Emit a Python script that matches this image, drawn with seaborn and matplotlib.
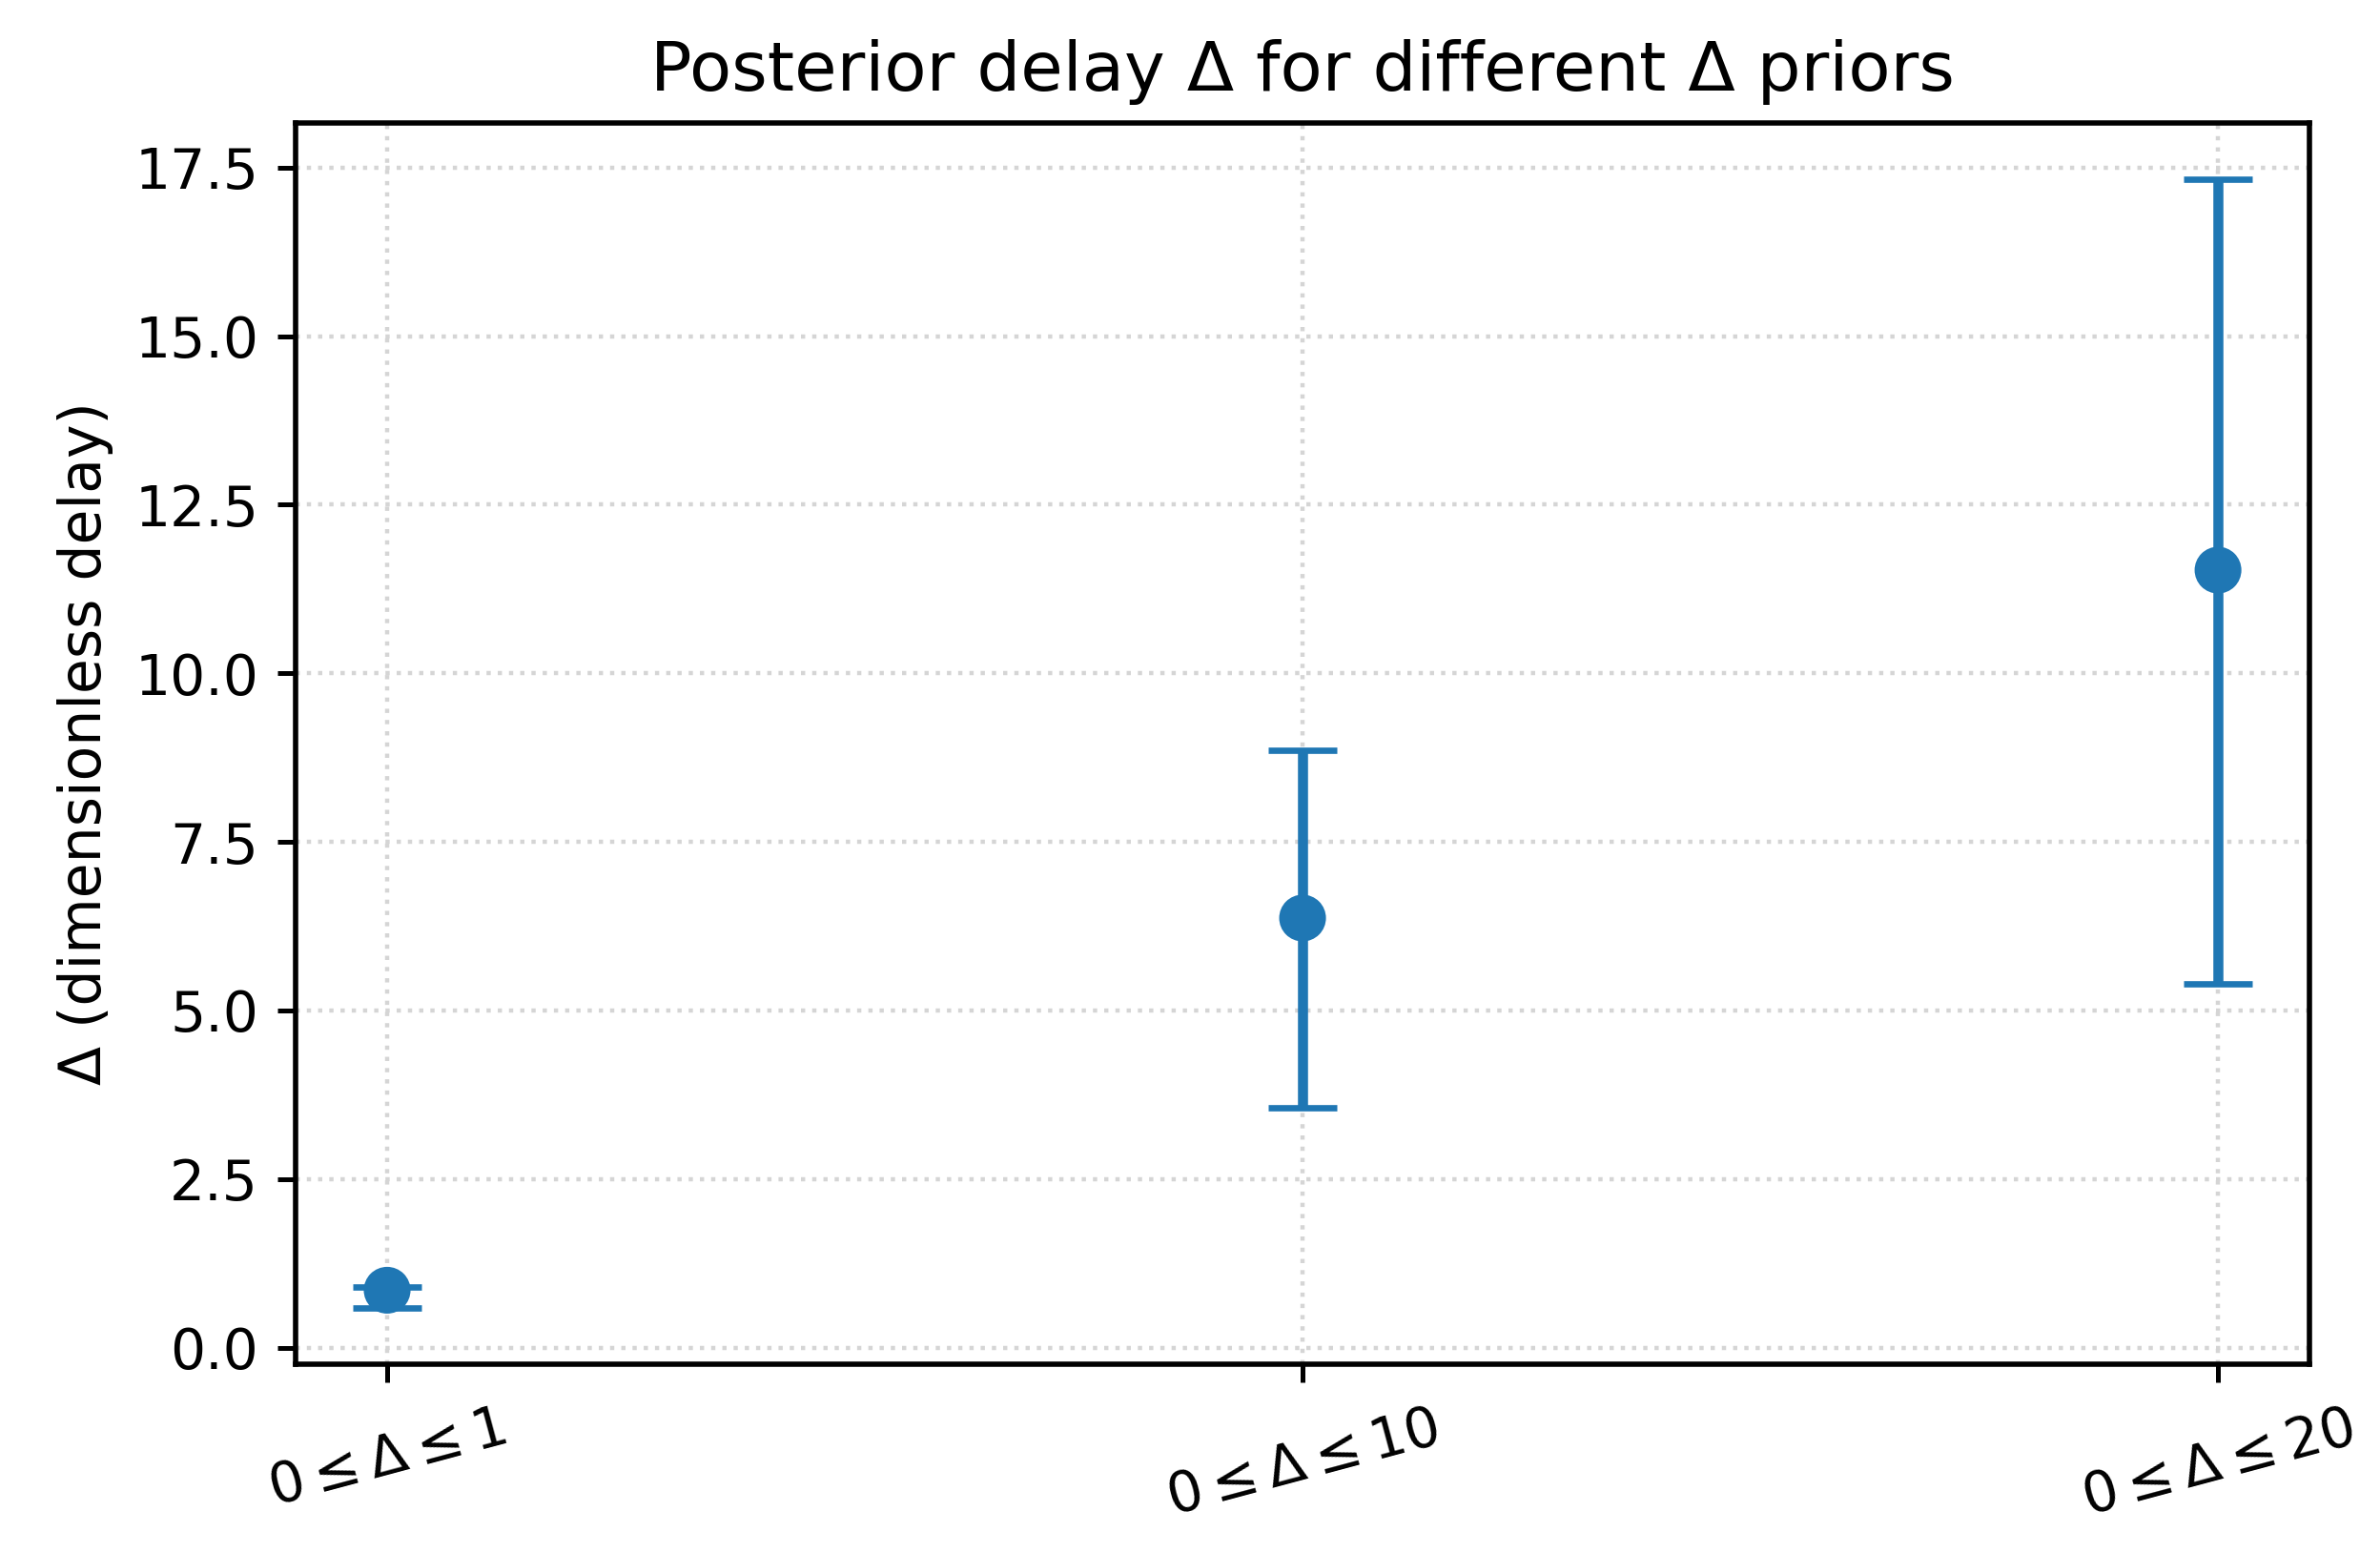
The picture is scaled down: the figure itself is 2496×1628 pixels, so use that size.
import numpy as np
import pandas as pd
import matplotlib
matplotlib.use("Agg")
import matplotlib.pyplot as plt
import seaborn as sns

# ---- data ----
categories = [r"$0 \leq \Delta \leq 1$", r"$0 \leq \Delta \leq 10$", r"$0 \leq \Delta \leq 20$"]
posterior_mean = [0.85, 6.37, 11.53]
lower_bound = [0.59, 3.55, 5.40]
upper_bound = [0.90, 8.86, 17.33]

sns.set_theme(style="ticks")
plt.rcParams["font.family"] = ["DejaVu Sans"]
plt.rcParams["mathtext.fontset"] = "dejavusans"
plt.rcParams["text.color"] = "black"
plt.rcParams["axes.labelcolor"] = "black"
plt.rcParams["xtick.color"] = "black"
plt.rcParams["ytick.color"] = "black"

DPI = 400
fig = plt.figure(figsize=(2496 / DPI, 1628 / DPI), dpi=DPI)
ax = fig.add_axes([0.1242, 0.121, 0.8462, 0.800])

color = "#1f77b4"
df = pd.DataFrame({"prior": categories, "delta": posterior_mean})
x = np.arange(len(categories))
yerr = np.array([np.array(posterior_mean) - np.array(lower_bound),
                 np.array(upper_bound) - np.array(posterior_mean)])

ax.errorbar(x, posterior_mean, yerr=yerr, fmt="none", ecolor=color,
            elinewidth=1.9, capsize=6.5, capthick=1.2, zorder=2)
sns.scatterplot(data=df, x="prior", y="delta", ax=ax, color=color, s=78,
                edgecolor="none", zorder=3)

ax.set_xticks(x)
ax.set_xticklabels(categories, rotation=15, fontsize=10.5)
ax.tick_params(axis="y", labelsize=10.5)
ax.tick_params(axis="both", direction="out", length=3.5, width=0.9, color="black")
ax.set_xlabel("")
ax.set_ylabel("Δ (dimensionless delay)", fontsize=10.8)
ax.set_title("Posterior delay Δ for different Δ priors", fontsize=13)
ax.margins(x=0.05, y=0.05)
ax.set_yticks([0.0, 2.5, 5.0, 7.5, 10.0, 12.5, 15.0, 17.5])

ax.grid(True, linestyle=":", color="#d5d5d5", linewidth=0.8)
ax.set_axisbelow(True)
for s in ax.spines.values():
    s.set_color("black")
    s.set_linewidth(1.0)

fig.savefig("out.png", dpi=DPI)
